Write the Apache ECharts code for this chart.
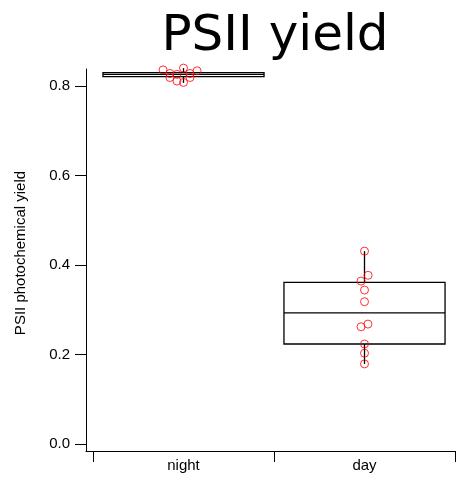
<!DOCTYPE html>
<html><head><meta charset="utf-8">
<script src="https://cdn.jsdelivr.net/npm/echarts@6/dist/echarts.min.js"></script>
<style>html,body{margin:0;padding:0;background:#fff}#c{width:461px;height:484px}</style>
</head><body><div id="c"></div>
<script>
var categories = ['night', 'day'];
var yTicks = [0, 0.2, 0.4, 0.6, 0.8];
// box stats: [min, Q1, median, Q3, max]
var nightBox = [0.807, 0.821, 0.826, 0.830, 0.840];
var dayBox = [0.179, 0.2235, 0.293, 0.361, 0.431];
// individual points
var nightValues = [0.836, 0.828, 0.819, 0.826, 0.811, 0.840, 0.808, 0.828, 0.819, 0.834];
var nightJitter = [-0.113, -0.075, -0.075, -0.036, -0.036, 0, 0, 0.036, 0.036, 0.075];
var dayValues = [0.431, 0.377, 0.364, 0.344, 0.318, 0.268, 0.262, 0.2235, 0.203, 0.179];
var dayJitter = [0, 0.02, -0.019, 0, 0, 0.019, -0.019, 0, 0, 0];

var yMin = -0.0156, yMax = 0.838;
var boxes = [[0].concat(nightBox), [1].concat(dayBox)];
var pts = [];
nightValues.forEach(function (v, i) { pts.push([0.5 + nightJitter[i], v]); });
dayValues.forEach(function (v, i) { pts.push([1.5 + dayJitter[i], v]); });

var chart = echarts.init(document.getElementById('c'), null, {renderer: 'canvas'});
var font = 'Liberation Sans, Arial, sans-serif';
chart.setOption({
  animation: false,
  backgroundColor: '#fff',
  title: {
    text: 'PSII yield', left: 270, top: 7, textAlign: 'center',
    textStyle: {fontFamily: 'DejaVu Sans', fontSize: 50, fontWeight: 'normal', color: '#000'}
  },
  grid: [
    {left: 93, right: 6, top: 69, bottom: 33},
    {left: 86, right: 6, top: 69, bottom: 33}
  ],
  xAxis: [
    {
      type: 'category', data: categories, gridIndex: 0,
      axisLine: {show: true, onZero: false, lineStyle: {color: '#000', width: 1}},
      axisTick: {show: true, length: 11, lineStyle: {color: '#000', width: 1}},
      axisLabel: {color: '#000', fontSize: 15, fontFamily: font, margin: 7},
      splitLine: {show: false}
    },
    {
      type: 'value', gridIndex: 1, min: 0, max: 1,
      axisLine: {show: true, onZero: false, lineStyle: {color: '#000', width: 1}},
      axisTick: {show: false}, axisLabel: {show: false}, splitLine: {show: false}
    },
    {
      type: 'value', gridIndex: 0, min: 0, max: 2, show: false
    }
  ],
  yAxis: [
    {
      type: 'value', gridIndex: 0, min: yMin, max: yMax, offset: 7,
      name: 'PSII photochemical yield', nameLocation: 'middle', nameGap: 58, nameRotate: 90,
      nameTextStyle: {color: '#000', fontSize: 15, fontFamily: font, padding: [0, 0, 0, 14]},
      axisLine: {show: true, onZero: false, lineStyle: {color: '#000', width: 1}},
      axisTick: {show: true, length: 11, customValues: yTicks, lineStyle: {color: '#000', width: 1}},
      axisLabel: {color: '#000', fontSize: 15, fontFamily: font, margin: 16, customValues: yTicks,
        formatter: function (v) { return v.toFixed(1); }},
      splitLine: {show: false}
    },
    {type: 'value', gridIndex: 1, min: yMin, max: yMax, show: false}
  ],
  series: [
    {
      type: 'custom', xAxisIndex: 0, yAxisIndex: 0, clip: false,
      data: boxes,
      encode: {x: 0, y: [1, 2, 3, 4, 5]},
      renderItem: function (params, api) {
        var c = api.value(0);
        var bw = api.size([1, 0])[0] * 0.89;
        var pMin = api.coord([c, api.value(1)]);
        var pQ1 = api.coord([c, api.value(2)]);
        var pMed = api.coord([c, api.value(3)]);
        var pQ3 = api.coord([c, api.value(4)]);
        var pMax = api.coord([c, api.value(5)]);
        var x = pMed[0];
        var st = {stroke: '#000', lineWidth: 1.3, fill: null};
        return {
          type: 'group',
          children: [
            {type: 'line', shape: {x1: x, y1: pMax[1], x2: x, y2: pQ3[1]}, style: st},
            {type: 'line', shape: {x1: x, y1: pQ1[1], x2: x, y2: pMin[1]}, style: st},
            {type: 'rect', shape: {x: x - bw / 2, y: pQ3[1], width: bw, height: pQ1[1] - pQ3[1]},
              style: {stroke: '#000', lineWidth: 1.3, fill: 'rgba(255,255,255,0)'}},
            {type: 'line', shape: {x1: x - bw / 2, y1: pMed[1], x2: x + bw / 2, y2: pMed[1]}, style: st}
          ]
        };
      }
    },
    {
      type: 'scatter', xAxisIndex: 2, yAxisIndex: 0, clip: false,
      data: pts, symbol: 'circle', symbolSize: 8,
      itemStyle: {color: 'rgba(255,255,255,0)', borderColor: '#ff0000', borderWidth: 1}
    }
  ]
});
</script></body></html>
